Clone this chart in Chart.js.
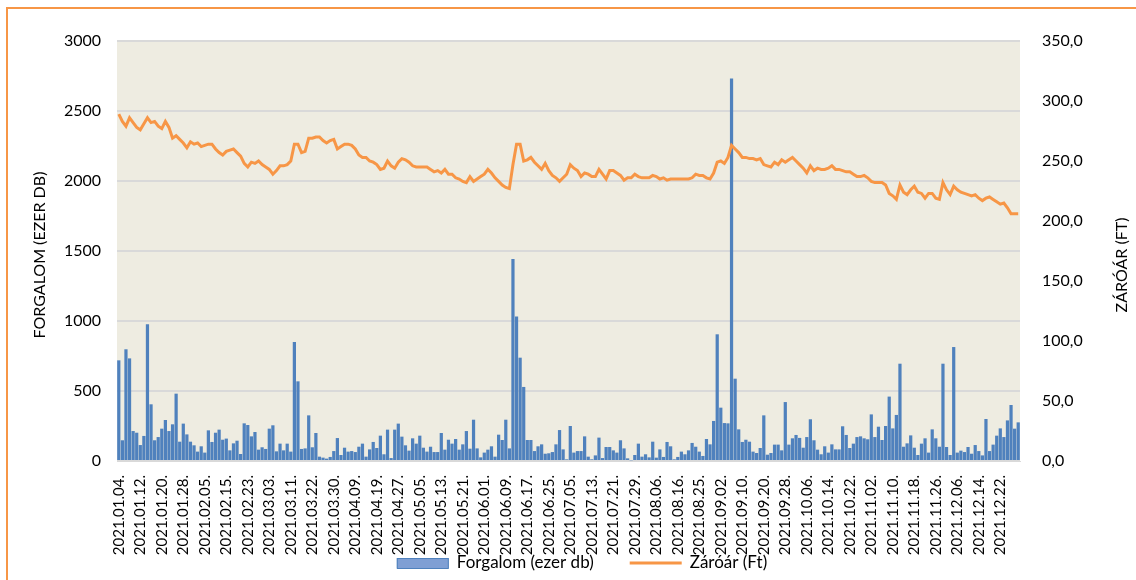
<!DOCTYPE html>
<html>
<head>
<meta charset="utf-8">
<script src="https://cdn.jsdelivr.net/npm/chart.js@4.4.0/dist/chart.umd.min.js"></script>
<style>
  html, body { margin: 0; padding: 0; background: #fff; }
  #wrap { position: relative; width: 1136px; height: 580px; overflow: hidden; }
  #frame { position: absolute; left: 6px; top: 7px; width: 1200px; height: 700px; border: 2px solid #F79646; }
  canvas { position: absolute; left: 0; top: 0; }
</style>
</head>
<body>
<div id="wrap"><div id="frame"></div><canvas id="chart" width="1136" height="580"></canvas></div>
<script>
// Trading days of 2021, one list of day numbers per month
const monthDays = [
  [4,5,6,7,8,11,12,13,14,15,18,19,20,21,22,25,26,27,28,29],
  [1,2,3,4,5,8,9,10,11,12,15,16,17,18,19,22,23,24,25,26],
  [1,2,3,4,5,8,9,10,11,12,16,17,18,19,22,23,24,25,26,29,30,31],
  [1,6,7,8,9,12,13,14,15,16,19,20,21,22,23,26,27,28,29,30],
  [3,4,5,6,7,10,11,12,13,14,17,18,19,20,21,25,26,27,28,31],
  [1,2,3,4,7,8,9,10,11,14,15,16,17,18,21,22,23,24,25,28,29,30],
  [1,2,5,6,7,8,9,12,13,14,15,16,19,20,21,22,23,26,27,28,29,30],
  [2,3,4,5,6,9,10,11,12,13,16,17,18,19,23,24,25,26,27,30,31],
  [1,2,3,6,7,8,9,10,13,14,15,16,17,20,21,22,23,24,27,28,29,30],
  [1,4,5,6,7,8,11,12,13,14,15,18,19,20,21,22,25,26,27,28,29],
  [2,3,4,5,8,9,10,11,12,15,16,17,18,19,22,23,24,25,26,29,30],
  [1,2,3,6,7,8,9,10,13,14,15,16,17,20,21,22,23,27,28,29,30]
];
const pad2 = n => String(n).padStart(2, '0');
const dates = [];
monthDays.forEach((days, m) => days.forEach(d => dates.push('2021.' + pad2(m + 1) + '.' + pad2(d) + '.')));

// Forgalom (ezer db)
const volume = [
  719,148,798,733,214,202,114,179,976,405,
  148,171,231,293,214,262,481,138,267,190,
  138,112,67,105,60,219,136,202,224,152,
  160,76,126,145,50,269,257,176,207,81,
  98,86,231,255,69,124,76,124,67,850,
  569,86,90,326,98,200,31,24,17,29,
  71,164,43,95,67,71,64,102,124,31,
  83,136,93,181,48,224,21,224,267,174,
  112,74,162,124,181,95,67,102,64,64,
  200,81,152,124,157,81,119,214,88,295,
  90,26,60,81,105,31,188,150,295,90,
  1443,1033,738,529,150,150,71,105,119,52,
  55,64,119,221,83,12,250,60,71,71,
  176,31,12,40,167,21,100,100,76,60,
  148,90,19,5,43,124,31,48,26,138,
  24,83,29,136,105,12,29,67,48,76,
  129,102,67,36,157,119,286,905,381,271,
  269,2733,588,226,136,152,138,67,57,93,
  326,45,57,117,117,76,421,117,162,186,
  165,95,171,298,148,81,48,105,60,119,
  83,83,248,186,93,124,171,176,162,155,
  333,171,245,150,250,460,233,329,695,102,
  126,183,95,43,124,162,60,226,162,102,
  695,100,43,814,60,74,64,100,52,114,
  71,40,300,71,117,181,233,171,290,400,
  231,276
];

// Záróár (Ft)
const closePrice = [
  289,283,279,286,282,278,276,281,286,282,
  283,279,277,283,278,269,271,268,265,261,
  266,264,265,262,263,264,264,260,257,255,
  258,259,260,257,254,248,245,249,248,250,
  247,245,243,239,242,246,246,247,250,264,
  264,257,258,269,269,270,270,267,265,267,
  268,260,262,264,264,263,260,255,253,253,
  250,249,247,243,244,250,246,244,249,252,
  251,249,246,245,245,245,245,243,241,242,
  240,243,239,239,236,235,233,232,237,233,
  235,237,239,243,240,236,233,230,228,227,
  247,264,264,250,251,253,249,246,243,248,
  242,238,236,233,236,239,247,244,242,237,
  240,239,237,237,243,239,235,242,242,240,
  238,234,236,236,239,237,236,236,236,238,
  237,235,236,234,235,235,235,235,235,235,
  236,239,238,238,236,235,240,249,250,248,
  253,263,260,257,253,253,252,252,251,252,
  247,246,245,249,247,251,249,251,253,250,
  247,244,240,246,242,244,243,243,244,246,
  243,243,242,241,241,239,237,237,238,236,
  233,232,232,232,230,223,221,218,230,224,
  222,226,229,224,223,219,223,223,219,218,
  232,226,222,229,226,224,223,222,221,222,
  219,217,219,220,218,216,214,215,211,206,
  206,206
];

const volumeLabel = 'Forgalom (ezer db)';
const priceLabel = 'Záróár (Ft)';
const leftTitle = 'FORGALOM (EZER DB)';
const rightTitle = 'ZÁRÓÁR (FT)';

const FONT = 'Lato, "Open Sans", sans-serif';
const BLUE = '#4F81BD';
const ORANGE = '#F79646';

// beige plot area
const plotBackground = {
  id: 'plotBackground',
  beforeDraw(chart) {
    const { ctx, chartArea: a } = chart;
    ctx.save();
    ctx.fillStyle = '#EEECE1';
    ctx.fillRect(a.left, a.top, a.width, a.height);
    ctx.restore();
  }
};

// axis titles (both read bottom-to-top) and the legend row
const titlesAndLegend = {
  id: 'titlesAndLegend',
  afterDraw(chart) {
    const { ctx, chartArea: a } = chart;
    const midY = (a.top + a.bottom) / 2;
    ctx.save();
    ctx.fillStyle = '#000';
    ctx.font = '16px ' + FONT;
    ctx.textAlign = 'center';
    ctx.textBaseline = 'middle';
    [[leftTitle, a.left - 77, midY + 4], [rightTitle, a.right + 102, midY + 14]].forEach(([t, x, y]) => {
      ctx.save();
      ctx.translate(x, y);
      ctx.rotate(-Math.PI / 2);
      ctx.fillText(t, 0, 0);
      ctx.restore();
    });

    // legend
    ctx.font = '17px ' + FONT;
    ctx.textAlign = 'left';
    const sw = 52, gapText = 8, gapItem = 36;
    const w1 = ctx.measureText(volumeLabel).width;
    const w2 = ctx.measureText(priceLabel).width;
    const total = sw + gapText + w1 + gapItem + sw + gapText + w2;
    let x = chart.width / 2 + 14 - total / 2;
    const y = 563;
    ctx.fillStyle = '#7F9FD4';
    ctx.fillRect(x, y - 5, sw, 10);
    ctx.strokeStyle = BLUE;
    ctx.lineWidth = 1;
    ctx.strokeRect(x + 0.5, y - 5 + 0.5, sw - 1, 10);
    ctx.fillStyle = '#000';
    ctx.fillText(volumeLabel, x + sw + gapText, y);
    x += sw + gapText + w1 + gapItem;
    ctx.strokeStyle = ORANGE;
    ctx.lineWidth = 3;
    ctx.beginPath();
    ctx.moveTo(x, y);
    ctx.lineTo(x + sw, y);
    ctx.stroke();
    ctx.fillText(priceLabel, x + sw + gapText, y);
    ctx.restore();
  }
};

const ctx = document.getElementById('chart').getContext('2d');
new Chart(ctx, {
  type: 'bar',
  data: {
    labels: dates,
    datasets: [
      {
        type: 'bar',
        label: volumeLabel,
        data: volume,
        yAxisID: 'y',
        backgroundColor: BLUE,
        barPercentage: 0.9,
        categoryPercentage: 1,
        order: 1
      },
      {
        type: 'line',
        label: priceLabel,
        data: closePrice,
        yAxisID: 'y1',
        borderColor: ORANGE,
        borderWidth: 3,
        pointRadius: 0,
        tension: 0,
        order: 0
      }
    ]
  },
  options: {
    responsive: false,
    animation: false,
    devicePixelRatio: 1,
    layout: { padding: { top: 41, bottom: 24, left: 0, right: 0 } },
    plugins: {
      legend: { display: false },
      title: { display: false },
      tooltip: { enabled: false }
    },
    scales: {
      x: {
        offset: true,
        grid: { display: false, drawTicks: false },
        border: { display: true, color: '#D9D9D9', width: 1 },
        ticks: {
          autoSkip: false,
          minRotation: 90,
          maxRotation: 90,
          padding: 14,
          color: '#000',
          font: { family: FONT, size: 15 },
          callback(v, i) { return i % 6 === 0 ? this.getLabelForValue(v) : null; }
        },
        afterFit(s) { s.height = 95; }
      },
      y: {
        position: 'left',
        min: 0,
        max: 3000,
        ticks: {
          stepSize: 500,
          padding: 16,
          color: '#000',
          font: { family: FONT, size: 16 },
          callback: v => String(v)
        },
        grid: { color: '#D9D9D9', lineWidth: 2, drawTicks: false },
        border: { display: false },
        afterFit(s) { s.width = 117; }
      },
      y1: {
        position: 'right',
        min: 0,
        max: 350,
        ticks: {
          stepSize: 50,
          padding: 22,
          color: '#000',
          font: { family: FONT, size: 16 },
          callback: v => v.toFixed(1).replace('.', ',')
        },
        grid: { display: false, drawTicks: false },
        border: { display: false },
        afterFit(s) { s.width = 116; }
      }
    }
  },
  plugins: [plotBackground, titlesAndLegend]
});
</script>
</body>
</html>
